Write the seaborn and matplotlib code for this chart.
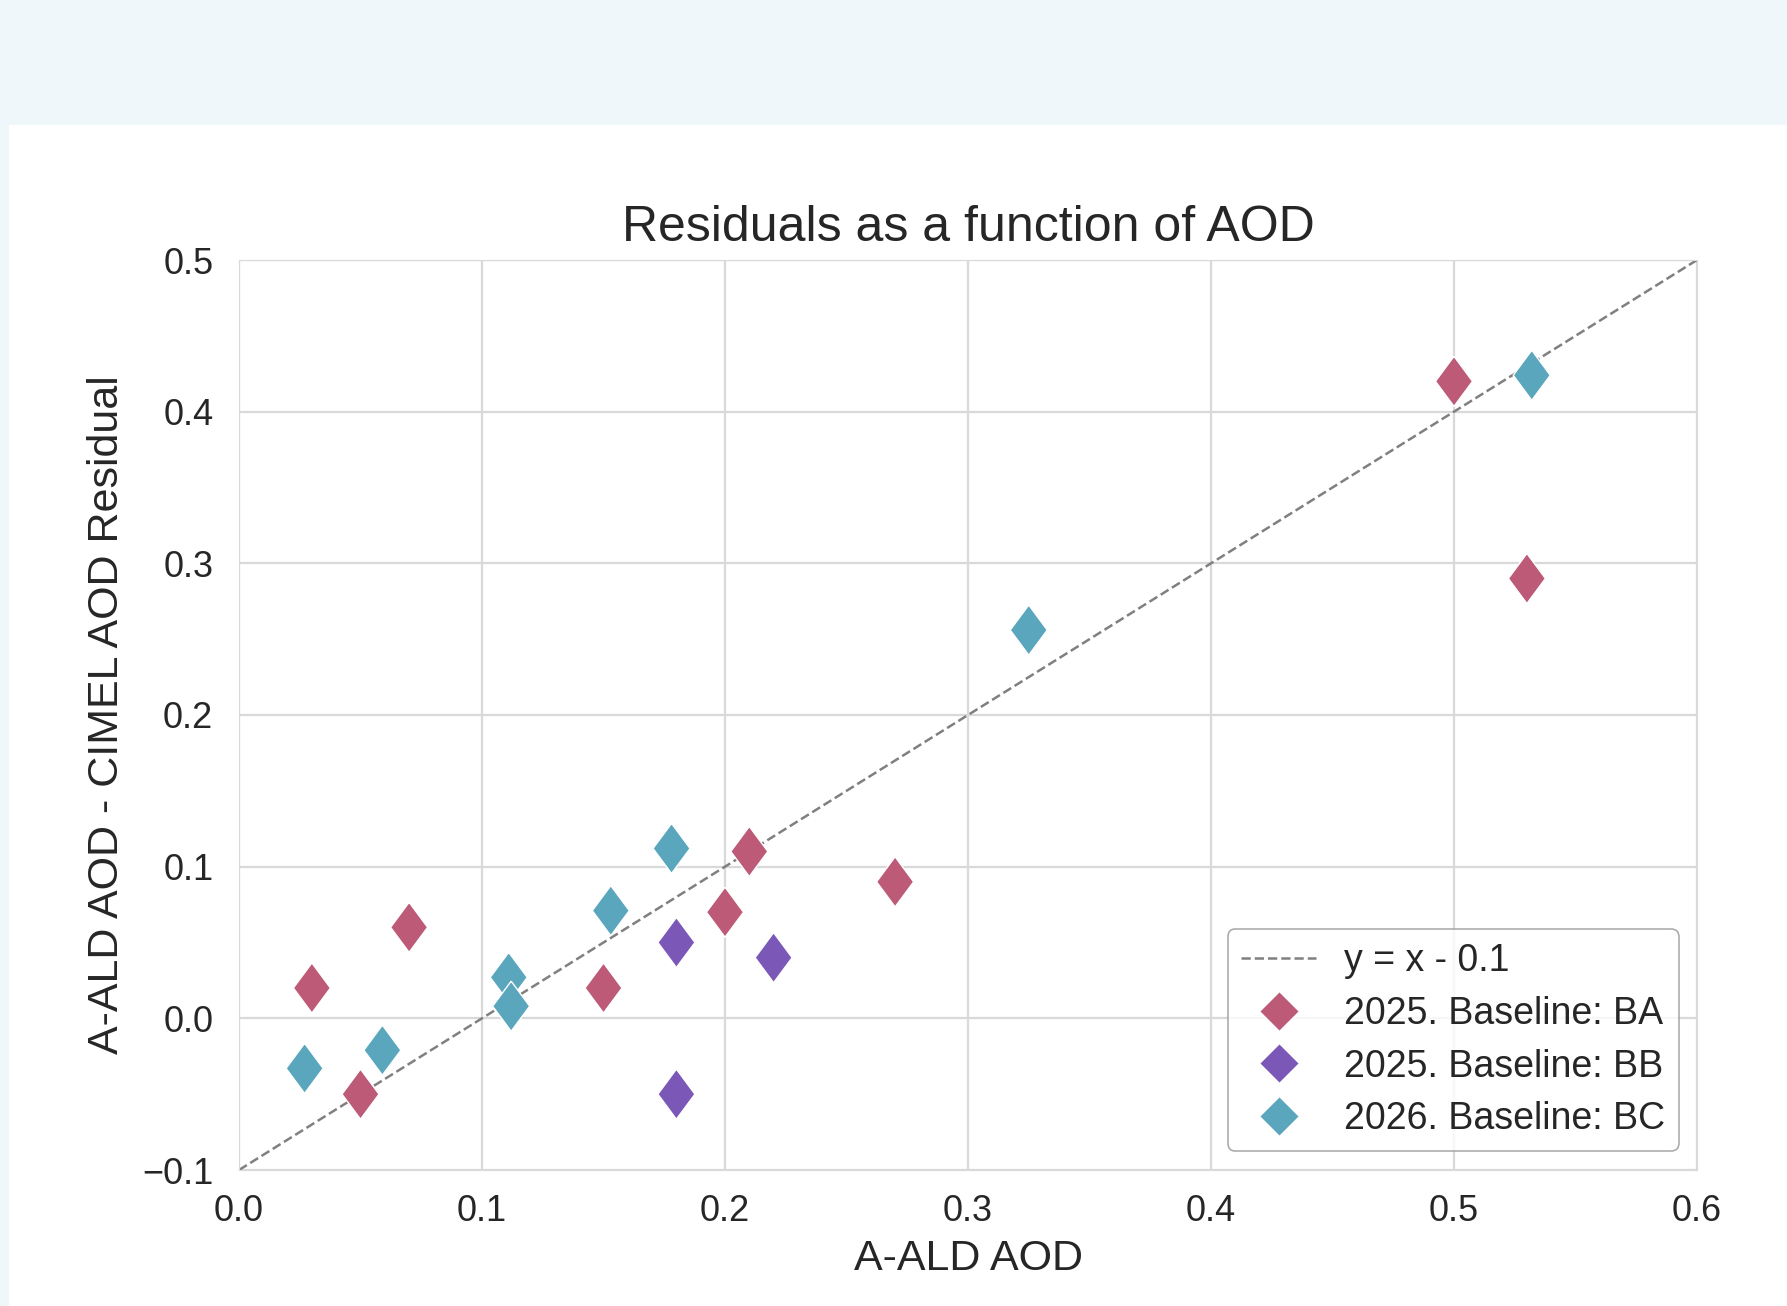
import numpy as np
import pandas as pd
import seaborn as sns
import matplotlib.pyplot as plt
from matplotlib.patches import Rectangle
from matplotlib.lines import Line2D

# values
ba_x = [0.03, 0.05, 0.07, 0.15, 0.20, 0.21, 0.27, 0.50, 0.53]
ba_y = [0.02, -0.05, 0.06, 0.02, 0.07, 0.11, 0.09, 0.42, 0.29]
bb_x = [0.18, 0.18, 0.22]
bb_y = [0.05, -0.05, 0.04]
bc_x = [0.027, 0.059, 0.111, 0.112, 0.153, 0.178, 0.325, 0.532]
bc_y = [-0.033, -0.021, 0.027, 0.008, 0.071, 0.112, 0.256, 0.424]
labels = ["2025. Baseline: BA", "2025. Baseline: BB", "2026. Baseline: BC"]
colors = ["#bc5a78", "#7b58b8", "#5aa6bd"]
x_ticks = [0.0, 0.1, 0.2, 0.3, 0.4, 0.5, 0.6]
y_ticks = [-0.1, 0.0, 0.1, 0.2, 0.3, 0.4, 0.5]

df = pd.concat([
    pd.DataFrame({"aod": ba_x, "resid": ba_y, "group": labels[0]}),
    pd.DataFrame({"aod": bb_x, "resid": bb_y, "group": labels[1]}),
    pd.DataFrame({"aod": bc_x, "resid": bc_y, "group": labels[2]}),
])

sns.set_style("whitegrid", {"grid.color": ".85", "axes.edgecolor": ".85"})
plt.rcParams["font.family"] = ["Liberation Sans", "DejaVu Sans"]
plt.rcParams["grid.linewidth"] = 1.6

# wider diamond than matplotlib's "d"
diamond = [(0, 1), (0.74, 0), (0, -1), (-0.74, 0), (0, 1)]

fig = plt.figure(figsize=(17.87, 13.06), dpi=100, facecolor="#eff7fb")
# white card below the light blue band
fig.patches.append(Rectangle((9 / 1787, 0), 1, 1 - 125 / 1306,
                             transform=fig.transFigure, facecolor="white",
                             edgecolor="none", zorder=-10))
ax = fig.add_axes([239 / 1787, 1 - 1170 / 1306, (1697 - 239) / 1787, (1170 - 260) / 1306])

line_x = np.array([0.0, 0.6])
ax.plot(line_x, line_x - 0.1, ls="--", color="gray", lw=1.8, zorder=1)

sns.scatterplot(data=df, x="aod", y="resid", hue="group", palette=colors,
                marker=diamond, s=1300, edgecolor="white", linewidth=1, ax=ax,
                zorder=3, legend=False)

ax.set_xlim(0, 0.6)
ax.set_ylim(-0.1, 0.5)
ax.set_xticks(x_ticks)
ax.set_yticks(y_ticks)
ax.set_xticklabels([f"{v:.1f}" for v in x_ticks])
ax.set_yticklabels([f"{v:.1f}".replace("-", "\u2212") for v in y_ticks])
ax.tick_params(labelsize=26, colors=".15")
ax.tick_params(axis="x", pad=14)
ax.tick_params(axis="y", pad=15)
ax.set_title("Residuals as a function of AOD", fontsize=36, color=".15", pad=14)
ax.set_xlabel("A-ALD AOD", fontsize=31, color=".15", labelpad=7)
ax.set_ylabel("A-ALD AOD - CIMEL AOD Residual", fontsize=31, color=".15", labelpad=11)

handles = [Line2D([], [], ls="--", color="gray", lw=1.8)]
handles += [Line2D([], [], ls="none", marker="D", markersize=20, color=c,
                   markeredgecolor="white", markeredgewidth=1) for c in colors]
leg = ax.legend(handles, ["y = x - 0.1"] + labels, loc="lower right", fontsize=27,
                frameon=True, borderpad=0.36, labelspacing=0.45, handlelength=2.0,
                handletextpad=0.75, borderaxespad=0, bbox_to_anchor=(0.9875, 0.021))
leg.get_frame().set_edgecolor(".6")
leg.get_frame().set_linewidth(1.2)

fig.savefig("out.png", dpi=100, facecolor=fig.get_facecolor())
